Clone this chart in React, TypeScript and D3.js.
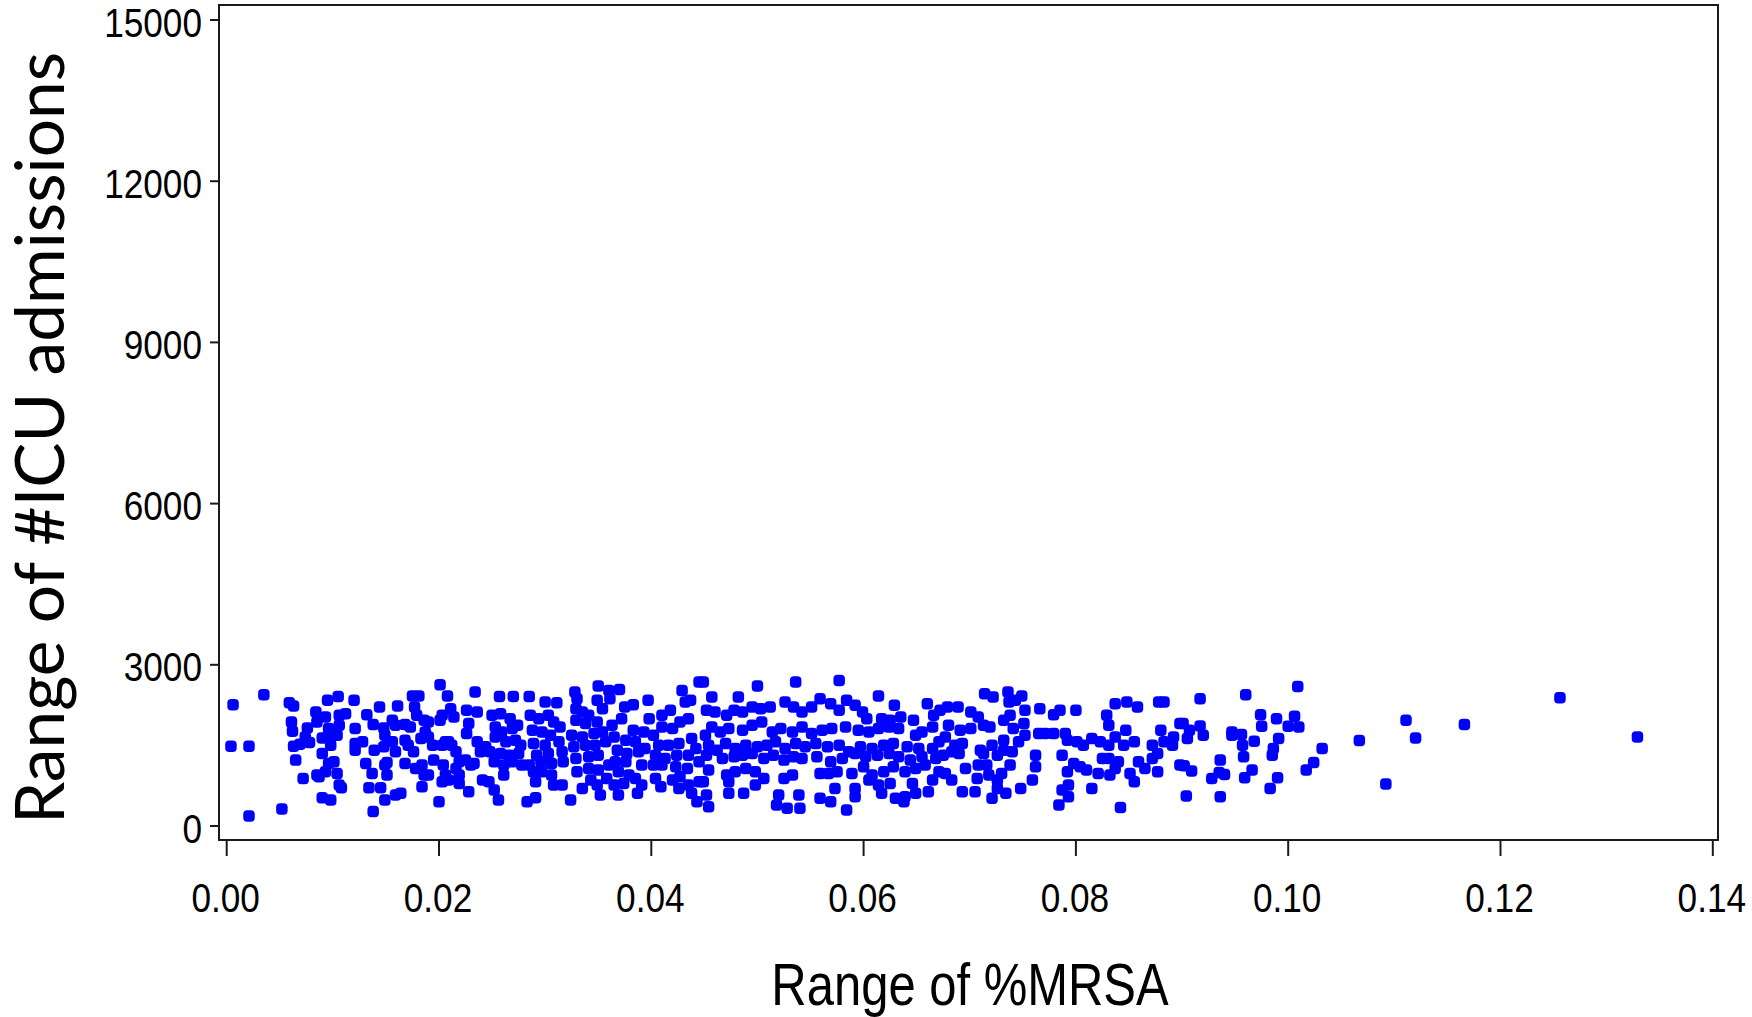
import React from "react";
import * as d3 from "d3";

// tick values
const xTicks = [0, 0.02, 0.04, 0.06, 0.08, 0.1, 0.12, 0.14];
const yTicks = [0, 3000, 6000, 9000, 12000, 15000];

// [range of %MRSA, range of #ICU admissions]
const band1: [number, number][] = [
  [0.0006, 2258], [0.0004, 1485], [0.0021, 1485], [0.0021, 187], [0.0035, 2443], [0.0052, 317],
  [0.0059, 2295], [0.0063, 2233], [0.0061, 1936], [0.0062, 1763], [0.0063, 1485], [0.0069, 1522],
  [0.0065, 1226], [0.0072, 886], [0.0076, 1825], [0.0074, 1658], [0.0078, 1553], [0.0084, 2122],
  [0.0085, 1936], [0.0087, 917], [0.0085, 948], [0.009, 1349], [0.009, 527], [0.0098, 484],
  [0.0093, 2029], [0.0095, 2338], [0.009, 1640], [0.0096, 1689], [0.0096, 1813], [0.0098, 1504],
  [0.0105, 2412], [0.0106, 2060], [0.0112, 2091], [0.0106, 1875], [0.0104, 1689], [0.0101, 1195],
  [0.0096, 1164], [0.0093, 1009], [0.0104, 979], [0.0106, 762], [0.0108, 713], [0.012, 2338],
  [0.0121, 1813], [0.0121, 1535], [0.0121, 1411], [0.0128, 1566], [0.0132, 2072], [0.0131, 1164],
  [0.0134, 713], [0.0137, 979], [0.0138, 268], [0.0138, 1887], [0.0139, 1411], [0.0144, 2214],
  [0.0145, 713], [0.0149, 484], [0.0148, 1825], [0.0149, 1689], [0.0148, 1473], [0.0151, 1182],
  [0.0149, 1133], [0.0151, 948], [0.0156, 1967], [0.0159, 1875], [0.0159, 1380], [0.0156, 1566],
  [0.0161, 2233], [0.0159, 577], [0.0164, 608], [0.0168, 1887], [0.0168, 1597], [0.0171, 1504],
  [0.0168, 1164], [0.0173, 1844], [0.0175, 2418], [0.0181, 2418], [0.0177, 2214], [0.0179, 2060],
  [0.0176, 1380], [0.0178, 1071], [0.0184, 1133], [0.0186, 1967], [0.019, 1936], [0.0184, 731],
  [0.0187, 1751], [0.019, 1658], [0.0183, 1627], [0.0186, 948], [0.019, 948], [0.0194, 1504],
  [0.0195, 1226], [0.02, 453], [0.0201, 2628], [0.0201, 1967], [0.0203, 2060], [0.0203, 1504],
  [0.0206, 1566], [0.0209, 1566], [0.0212, 1504], [0.0216, 1380], [0.0204, 1133], [0.0206, 948],
  [0.0209, 855], [0.0203, 824], [0.0208, 2418], [0.0211, 2184], [0.0214, 2029], [0.0216, 1071],
  [0.0219, 948], [0.0219, 1195], [0.0219, 793],
];

const band2: [number, number][] = [
  [0.0234, 2493], [0.0257, 2412], [0.027, 2412], [0.0285, 2412], [0.03, 2307], [0.0311, 2295],
  [0.0328, 2493], [0.033, 2369], [0.035, 2604], [0.036, 2523], [0.037, 2542], [0.0361, 2369],
  [0.0349, 2338], [0.0354, 2184], [0.0375, 2214], [0.0383, 2258], [0.0397, 2338], [0.0429, 2523],
  [0.0432, 2307], [0.0437, 2338], [0.0445, 2678],
  [0.0226, 2153], [0.0236, 2122], [0.0228, 1906], [0.0226, 1720], [0.0236, 1566], [0.0239, 1380],
  [0.0244, 1473], [0.0225, 1226], [0.0233, 1164], [0.023, 1133], [0.0241, 855], [0.0247, 824],
  [0.0252, 670], [0.0228, 639], [0.0256, 484],
  [0.025, 2060], [0.0258, 2091], [0.0267, 1998], [0.0253, 1844], [0.0259, 1751], [0.0269, 1813],
  [0.0274, 1875], [0.0253, 1658], [0.0263, 1566], [0.0272, 1597], [0.0277, 1504], [0.0248, 1380],
  [0.0258, 1349], [0.0266, 1318], [0.0275, 1349], [0.0252, 1195], [0.0261, 1133], [0.0269, 1195],
  [0.0278, 1133], [0.0261, 948], [0.0285, 1133], [0.0283, 453], [0.0291, 527],
  [0.0286, 2060], [0.0294, 1998], [0.0303, 2060], [0.0308, 1936], [0.0314, 1844], [0.0288, 1782],
  [0.0297, 1751], [0.0305, 1689], [0.0289, 1535], [0.03, 1504], [0.0313, 1566], [0.0292, 1318],
  [0.0303, 1349], [0.0316, 1380], [0.0296, 1195], [0.0306, 1164], [0.0317, 1195], [0.0289, 1009],
  [0.0297, 1009], [0.0306, 948], [0.0291, 824], [0.0308, 762], [0.0316, 762], [0.0324, 484],
  [0.0329, 2184], [0.0335, 2122], [0.0341, 2060], [0.0329, 1967], [0.0338, 1906], [0.0349, 1936],
  [0.0325, 1689], [0.0335, 1658], [0.0346, 1720], [0.0354, 1751], [0.0327, 1473], [0.0338, 1504],
  [0.0347, 1504], [0.0357, 1566], [0.0329, 1257], [0.0341, 1288], [0.035, 1318], [0.033, 1009],
  [0.0341, 1071], [0.035, 1040], [0.036, 1133], [0.0335, 700], [0.0343, 855], [0.0349, 762],
  [0.0352, 577], [0.0358, 886],
  [0.0363, 1875], [0.0372, 1998], [0.0383, 1782], [0.0365, 1658], [0.0376, 1597], [0.0385, 1566],
  [0.0368, 1411], [0.0377, 1349], [0.0388, 1380], [0.0366, 1195], [0.0376, 1195], [0.0369, 1009],
  [0.0379, 948], [0.0385, 886], [0.0365, 762], [0.0369, 577], [0.0374, 793], [0.0387, 608],
  [0.0391, 1133], [0.0394, 1442],
  [0.0398, 1998], [0.0393, 1751], [0.0402, 1689], [0.041, 2060], [0.0418, 2153], [0.041, 1844],
  [0.042, 1813], [0.0427, 1936], [0.0435, 1998], [0.0407, 1504], [0.0416, 1504], [0.0426, 1535],
  [0.0438, 1627], [0.0404, 1318], [0.0413, 1257], [0.0424, 1318], [0.0435, 1318], [0.0442, 1442],
  [0.0402, 1133], [0.041, 1133], [0.0423, 1102], [0.0434, 1071], [0.0445, 1195], [0.0404, 886],
  [0.042, 855], [0.0427, 917], [0.0409, 731], [0.0426, 700], [0.0435, 762], [0.0438, 608],
  [0.0445, 824], [0.0443, 453], [0.0391, 762],
];

const band3: [number, number][] = [
  [0.0449, 2678], [0.05, 2604], [0.0536, 2678], [0.0577, 2709], [0.0614, 2418], [0.0629, 2245],
  [0.066, 2276], [0.0457, 2400], [0.0482, 2400],
  [0.0452, 2153], [0.046, 2122], [0.0471, 2060], [0.0478, 2153], [0.0486, 2122], [0.0495, 2214],
  [0.0503, 2184], [0.0512, 2214], [0.0526, 2307], [0.0534, 2214], [0.0542, 2122], [0.0551, 2214],
  [0.0559, 2369], [0.0569, 2276], [0.0577, 2153], [0.0584, 2338], [0.0592, 2245], [0.0599, 2122],
  [0.0603, 1998], [0.0617, 1998], [0.0625, 1967], [0.0635, 2029], [0.0647, 1967], [0.0666, 2060],
  [0.0672, 2153],
  [0.0457, 1844], [0.0451, 1689], [0.0465, 1751], [0.0473, 1813], [0.0486, 1782], [0.0495, 1875],
  [0.0504, 1936], [0.0514, 1751], [0.0522, 1813], [0.0533, 1751], [0.0542, 1844], [0.0551, 1720],
  [0.0561, 1782], [0.057, 1813], [0.0583, 1844], [0.0595, 1782], [0.0605, 1751], [0.0614, 1813],
  [0.0624, 1844], [0.0633, 1813], [0.0649, 1689], [0.0665, 1844], [0.0655, 1751], [0.0671, 1566],
  [0.0454, 1504], [0.0462, 1411], [0.047, 1535], [0.0479, 1442], [0.0489, 1504], [0.05, 1473],
  [0.0509, 1504], [0.0517, 1566], [0.0526, 1442], [0.0536, 1535], [0.0545, 1473], [0.0555, 1535],
  [0.0566, 1473], [0.0577, 1504], [0.0586, 1380], [0.0597, 1473], [0.0608, 1442], [0.0619, 1504],
  [0.0628, 1535], [0.0641, 1473], [0.0652, 1442], [0.0665, 1442], [0.0452, 1318], [0.0467, 1257],
  [0.0478, 1288], [0.0486, 1318], [0.0495, 1349], [0.0506, 1257], [0.0515, 1318], [0.0525, 1226],
  [0.0534, 1288], [0.0542, 1257], [0.0556, 1288], [0.0569, 1195], [0.058, 1257], [0.0592, 1349],
  [0.0602, 1288], [0.0613, 1318], [0.0624, 1349], [0.0633, 1288], [0.0644, 1226], [0.0655, 1288],
  [0.0668, 1257],
  [0.0454, 1040], [0.0449, 824], [0.0471, 948], [0.0479, 1009], [0.0489, 1071], [0.0498, 1009],
  [0.0506, 886], [0.0525, 886], [0.0533, 948], [0.0559, 979], [0.0567, 979], [0.0575, 1009],
  [0.0589, 979], [0.06, 1102], [0.0608, 948], [0.0619, 1009], [0.0628, 1102], [0.0639, 1009],
  [0.0649, 1071], [0.0658, 1133], [0.0665, 855], [0.0671, 1009], [0.0473, 824], [0.0498, 762],
  [0.0452, 577], [0.0454, 360], [0.0473, 608], [0.0487, 608], [0.052, 577], [0.0518, 391],
  [0.0528, 330], [0.0539, 577], [0.054, 330], [0.0559, 515], [0.0569, 453], [0.0573, 700],
  [0.0584, 299], [0.0592, 700], [0.0592, 546], [0.0605, 855], [0.0614, 762], [0.0617, 608],
  [0.0625, 793], [0.063, 515], [0.0638, 453], [0.0639, 546], [0.0646, 793], [0.0649, 608],
  [0.0661, 639],
];

const band4: [number, number][] = [
  [0.0714, 2462], [0.0722, 2400], [0.0736, 2493], [0.0737, 2307], [0.0743, 2338], [0.0749, 2418],
  [0.0752, 2153], [0.0766, 2184], [0.0785, 2153], [0.0779, 2072], [0.08, 2153], [0.0829, 2060],
  [0.0837, 2276], [0.0848, 2307], [0.0858, 2214], [0.0878, 2307], [0.0883, 2307],
  [0.0679, 2214], [0.0689, 2214], [0.0701, 2122], [0.0708, 2029], [0.068, 1875], [0.0691, 1782],
  [0.0701, 1813], [0.0713, 1875], [0.0719, 1844], [0.0732, 1967], [0.0738, 2060], [0.0741, 1813],
  [0.0751, 1906], [0.0752, 1689], [0.0765, 1720], [0.0771, 1720], [0.0779, 1720], [0.079, 1720],
  [0.0792, 1597], [0.0801, 1566], [0.0807, 1504], [0.0815, 1627], [0.0823, 1566], [0.0831, 1504],
  [0.0831, 1875], [0.0837, 1658], [0.0845, 1504], [0.0847, 1782], [0.0855, 1566], [0.0872, 1504],
  [0.088, 1782], [0.0883, 1566], [0.0891, 1504], [0.0892, 1658], [0.0898, 1906],
  [0.0677, 1658], [0.0686, 1504], [0.0693, 1535], [0.0675, 1318], [0.0683, 1380], [0.069, 1349],
  [0.071, 1411], [0.0721, 1504], [0.0713, 1349], [0.0726, 1318], [0.0732, 1411], [0.074, 1380],
  [0.0732, 1597], [0.0746, 1566], [0.0762, 1318], [0.0762, 1102], [0.0787, 1318], [0.0825, 1257],
  [0.0831, 1257], [0.084, 1195], [0.0859, 1195], [0.0872, 1257], [0.0877, 1349], [0.0898, 1133],
  [0.0677, 979], [0.0683, 855], [0.0696, 1071], [0.0708, 1133], [0.0716, 1133], [0.0738, 1133],
  [0.0707, 886], [0.0718, 948], [0.073, 979], [0.0726, 855], [0.0759, 855], [0.0792, 1009],
  [0.0798, 1164], [0.0804, 1102], [0.081, 1040], [0.0821, 979], [0.0832, 948], [0.0837, 1071],
  [0.0851, 979], [0.0855, 824], [0.0865, 1071], [0.0877, 1009],
  [0.0693, 639], [0.0705, 639], [0.0721, 515], [0.0734, 608], [0.0748, 700], [0.0726, 700],
  [0.0787, 670], [0.0793, 762], [0.0793, 546], [0.0784, 391], [0.0815, 700], [0.0842, 342],
];

const band5: [number, number][] = [
  [0.0917, 2369], [0.096, 2443], [0.1009, 2598], [0.1111, 1967], [0.112, 1640],
  [0.0901, 1906], [0.0907, 1782], [0.0905, 1627], [0.0917, 1862], [0.092, 1689], [0.0947, 1751],
  [0.0947, 1689], [0.0956, 1702], [0.0957, 1504], [0.0958, 1288], [0.0968, 1578], [0.0974, 2072],
  [0.0975, 1856], [0.0989, 1998], [0.0991, 1627], [0.0986, 1442], [0.0985, 1318], [0.1, 1856],
  [0.1006, 2042], [0.101, 1844], [0.1032, 1442], [0.1067, 1590],
  [0.0902, 1121], [0.0909, 1022], [0.0936, 1226], [0.0928, 886], [0.0935, 997], [0.094, 960],
  [0.0959, 898], [0.0966, 1040], [0.099, 898], [0.0983, 700], [0.1017, 1040], [0.1024, 1182],
  [0.1092, 781], [0.0904, 558], [0.0936, 546],
];

const band6: [number, number][] = [
  [0.1166, 1887], [0.1256, 2388], [0.1329, 1656],
];

const W = 1752;
const H = 1017;
const frame = { left: 219, right: 1718, top: 5, bottom: 840 };
const tickFont = "'Liberation Sans', Arial, sans-serif";
const narrow = 0.88;
const markSize = 11.5;

export default function App() {
  const x = d3.scaleLinear().domain([0, 0.14]).range([226.7, 1712.8]);
  const y = d3.scaleLinear().domain([0, 15000]).range([826, 20]);
  const points = [...band1, ...band2, ...band3, ...band4, ...band5, ...band6];
  const axisColor = "#1a1a1a";

  return (
    <svg
      width={W}
      height={H}
      style={{ position: "absolute", left: 0, top: 0, background: "#fff" }}
    >
      <rect x={0} y={0} width={W} height={H} fill="#fff" />

      {/* y ticks */}
      {yTicks.map((t) => (
        <g key={"y" + t}>
          <line x1={frame.left - 9} x2={frame.left} y1={y(t)} y2={y(t)} stroke={axisColor} strokeWidth={2} />
          <text
            transform={`translate(${frame.left - 17},${y(t) + 16.5}) scale(${narrow},1)`}
            textAnchor="end"
            fontFamily={tickFont}
            fontSize={40}
            fill="#000"
          >
            {t}
          </text>
        </g>
      ))}

      {/* x ticks */}
      {xTicks.map((t) => (
        <g key={"x" + t}>
          <line x1={x(t)} x2={x(t)} y1={frame.bottom} y2={frame.bottom + 16} stroke={axisColor} strokeWidth={2} />
          <text
            transform={`translate(${x(t) - 1},${911.5}) scale(${narrow},1)`}
            textAnchor="middle"
            fontFamily={tickFont}
            fontSize={40}
            fill="#000"
          >
            {d3.format(".2f")(t)}
          </text>
        </g>
      ))}

      {/* points: rounded squares like the SAS dot marker */}
      <g fill="#0000ff">
        {points.map((d, i) => (
          <rect
            key={i}
            x={x(d[0]) - markSize / 2}
            y={y(d[1]) - markSize / 2}
            width={markSize}
            height={markSize}
            rx={4}
          />
        ))}
      </g>

      {/* frame */}
      <rect
        x={frame.left}
        y={frame.top}
        width={frame.right - frame.left}
        height={frame.bottom - frame.top}
        fill="none"
        stroke={axisColor}
        strokeWidth={2}
      />

      {/* axis titles */}
      <text
        transform={`translate(970,1005) scale(0.83,1)`}
        textAnchor="middle"
        fontFamily={tickFont}
        fontSize={59}
        fill="#000"
      >
        Range of %MRSA
      </text>
      <text
        transform={`translate(64,438) rotate(-90)`}
        textAnchor="middle"
        fontFamily="Lato, 'Open Sans', sans-serif"
        fontSize={68}
        textLength={772}
        lengthAdjust="spacingAndGlyphs"
        fill="#000"
      >
        Range of #ICU admissions
      </text>
    </svg>
  );
}
